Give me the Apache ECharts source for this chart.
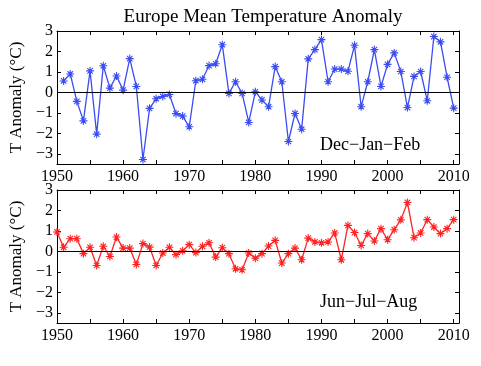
<!DOCTYPE html>
<html>
<head>
<meta charset="utf-8">
<script src="https://cdn.jsdelivr.net/npm/echarts@6/dist/echarts.min.js"></script>
<style>html,body{margin:0;padding:0;background:#fff}#c{width:481px;height:366px}</style>
</head>
<body>
<div id="c"></div>
<script>
var titleText = 'Europe Mean Temperature Anomaly';
var yName = 'T Anomaly (°C)';
var winterLabel = 'Dec\u2212Jan\u2212Feb';
var summerLabel = 'Jun\u2212Jul\u2212Aug';
var xTickYears = [1950,1955,1960,1965,1970,1975,1980,1985,1990,1995,2000,2005,2010];
var xLabelYears = [1950,1960,1970,1980,1990,2000,2010];
var yTicks = [-3,-2,-1,0,1,2,3];

var winterYears = [];
for (var y = 1951; y <= 2010; y++) winterYears.push(y);
var winterValues = [0.56,0.90,-0.44,-1.39,1.05,-2.04,1.30,0.21,0.80,0.11,
  1.65,0.29,-3.28,-0.78,-0.31,-0.20,-0.10,-1.04,-1.16,-1.68,
  0.57,0.64,1.31,1.40,2.33,-0.05,0.52,-0.05,-1.47,0.03,
  -0.37,-0.70,1.26,0.52,-2.40,-1.03,-1.80,1.64,2.09,2.58,
  0.52,1.14,1.14,1.03,2.30,-0.70,0.52,2.09,0.29,1.37,
  1.93,1.02,-0.74,0.78,1.02,-0.41,2.73,2.47,0.74,-0.77];

var summerYears = [];
for (var y2 = 1950; y2 <= 2010; y2++) summerYears.push(y2);
var summerValues = [0.95,0.20,0.62,0.62,-0.11,0.20,-0.69,0.25,-0.25,0.70,
  0.16,0.16,-0.64,0.38,0.21,-0.69,-0.08,0.20,-0.16,0.03,
  0.33,-0.06,0.25,0.42,-0.28,0.18,-0.11,-0.85,-0.90,-0.08,
  -0.33,-0.11,0.26,0.54,-0.57,-0.11,0.16,-0.41,0.65,0.46,
  0.42,0.46,0.90,-0.41,1.27,0.92,0.29,0.87,0.51,1.11,
  0.57,1.06,1.54,2.39,0.67,0.90,1.55,1.19,0.87,1.11,1.55];

var FONT = "'Liberation Serif', 'DejaVu Serif', serif";
var star = 'path://M5,0L5,10M0,5L10,5M1.6,1.6L8.4,8.4M8.4,1.6L1.6,8.4';

function pairs(xs, vs){ return xs.map(function(x,i){ return [x, vs[i]]; }); }

function xAx(gi, pos, showLabels){
  return {
    type:'value', gridIndex:gi, position:pos, min:1950, max:2010.8,
    axisLine:{show:true, onZero:false, lineStyle:{color:'#000', width:1}},
    axisTick:{show:true, inside:true, length:4, customValues:xTickYears, lineStyle:{color:'#000'}},
    axisLabel:{show:showLabels, customValues:xLabelYears, color:'#000', fontFamily:FONT, fontSize:16, margin:5,
      formatter:function(v){ return String(Math.round(v)); }},
    splitLine:{show:false}
  };
}
function yAx(gi, pos, showLabels){
  var a = {
    type:'value', gridIndex:gi, position:pos, min:-3.5, max:3,
    axisLine:{show:true, onZero:false, lineStyle:{color:'#000', width:1}},
    axisTick:{show:true, inside:true, length:4, customValues:yTicks, lineStyle:{color:'#000'}},
    axisLabel:{show:showLabels, customValues:yTicks, color:'#000', fontFamily:FONT, fontSize:16, margin:4,
      formatter:function(v){ return String(v).replace('-', '\u2212'); }},
    splitLine:{show:false}
  };
  if (showLabels) {
    a.name = yName; a.nameLocation = 'middle'; a.nameGap = 30; a.nameRotate = 90;
    a.nameTextStyle = {color:'#000', fontFamily:FONT, fontSize:17};
  }
  return a;
}
function ser(xi, yi, data, color){
  return {
    type:'line', xAxisIndex:xi, yAxisIndex:yi, data:data,
    symbol:star, symbolSize:8, showSymbol:true,
    lineStyle:{color:color, width:1.3},
    itemStyle:{color:color, borderColor:color, borderWidth:1.1},
    animation:false, silent:true,
    markLine:{silent:true, symbol:['none','none'], label:{show:false},
      lineStyle:{color:'#000', type:'solid', width:1}, data:[{yAxis:0}], animation:false}
  };
}

var chart = echarts.init(document.getElementById('c'), null, {renderer:'canvas'});
chart.setOption({
  animation:false,
  backgroundColor:'#fff',
  textStyle:{fontFamily:FONT},
  title:{text:titleText, left:258, textAlign:'center', top:3,
    textStyle:{fontFamily:FONT, fontSize:19, fontWeight:'normal', color:'#000'}},
  grid:[
    {left:57, right:22, top:31, height:133},
    {left:57, right:22, top:190, height:133}
  ],
  xAxis:[xAx(0,'bottom',true), xAx(0,'top',false), xAx(1,'bottom',true), xAx(1,'top',false)],
  yAxis:[yAx(0,'left',true), yAx(0,'right',false), yAx(1,'left',true), yAx(1,'right',false)],
  graphic:[
    {type:'text', left:320, top:136, style:{text:winterLabel, fontFamily:FONT, fontSize:18, fill:'#000'}},
    {type:'text', left:320, top:293, style:{text:summerLabel, fontFamily:FONT, fontSize:18, fill:'#000'}}
  ],
  series:[
    ser(0, 0, pairs(winterYears, winterValues), '#3a4cf2'),
    ser(2, 2, pairs(summerYears, summerValues), '#ff2222')
  ]
});
</script>
</body>
</html>
